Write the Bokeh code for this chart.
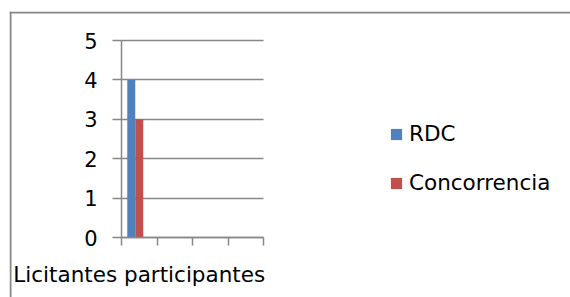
from bokeh.plotting import figure
from bokeh.models import (ColumnDataSource, FixedTicker, LinearAxis, Legend, LegendItem,
                          Range1d, Span)
from bokeh.transform import dodge
from bokeh.embed import file_html
from bokeh.resources import INLINE

# data
category = ["Licitantes participantes"]
cat_pos = [0.5]
rdc = [4]
concorrencia = [3]
series_names = ["RDC", "Concorrencia"]
y_ticks = [0, 1, 2, 3, 4, 5]
slot_edges = [0, 1, 2, 3, 4]

FONT = "DejaVu Sans"
GRAY = "#878787"
BLUE = "#4F81BD"
RED = "#C0504D"

# layout (pixels)
W, H = 570, 297
FL, FT = 9, 11              # frame left / top (outer chart border)
AX_X, AX_Y0, AX_Y5 = 121, 237, 40   # plot-area corner and top
SLOT = 35.5                  # px per category slot
YPX = (AX_Y0 - AX_Y5) / 5.0  # px per y unit

x_start = (FL - AX_X) / SLOT
x_end = (W - AX_X) / SLOT
y_end = 5 + (AX_Y5 - FT) / YPX
y_start = -(H - AX_Y0) / YPX

src = ColumnDataSource(dict(x=cat_pos, rdc=rdc, conc=concorrencia))

p = figure(width=W, height=H, output_backend="svg", toolbar_location=None,
           x_range=Range1d(x_start, x_end), y_range=Range1d(y_start, y_end),
           min_border_left=FL, min_border_right=0, min_border_top=FT, min_border_bottom=0,
           x_axis_type=None, y_axis_location="left")
p.outline_line_color = None

r1 = p.vbar(x=dodge("x", -0.225, range=p.x_range), top="rdc", width=0.225, source=src,
            fill_color=BLUE, line_color=None)
r2 = p.vbar(x=dodge("x", 0.0, range=p.x_range), top="conc", width=0.225, source=src,
            fill_color=RED, line_color=None)

# y axis, drawn at x = 0
ya = p.yaxis[0]
ya.fixed_location = 0
ya.bounds = (0, 5)
ya.ticker = FixedTicker(ticks=y_ticks)
ya.axis_line_color = GRAY
ya.axis_line_width = 1.5
ya.major_tick_line_color = GRAY
ya.major_tick_line_width = 1.5
ya.major_tick_out = 9
ya.major_tick_in = 0
ya.minor_tick_line_color = None
ya.major_label_text_font = FONT
ya.major_label_text_font_size = "21px"
ya.major_label_text_color = "black"
ya.major_label_standoff = 15

p.ygrid.ticker = FixedTicker(ticks=y_ticks)
p.ygrid.grid_line_color = GRAY
p.ygrid.grid_line_width = 1.5
p.ygrid.cross_bounds = (0, 4)
p.ygrid.bounds = (0, 5)
p.xgrid.grid_line_color = None

# x axis: category label at slot centre, tick marks at slot edges (minor ticks)
xa = LinearAxis(ticker=FixedTicker(ticks=cat_pos, minor_ticks=slot_edges),
                bounds=(0, 4), fixed_location=0,
                major_label_overrides={cat_pos[0]: category[0]})
xa.axis_line_color = GRAY
xa.axis_line_width = 1.5
xa.major_tick_line_color = None
xa.major_tick_out = 0
xa.major_tick_in = 0
xa.minor_tick_line_color = GRAY
xa.minor_tick_line_width = 1.5
xa.minor_tick_out = 8
xa.minor_tick_in = 0
xa.major_label_text_font = FONT
xa.major_label_text_font_size = "21.5px"
xa.major_label_text_color = "black"
xa.major_label_standoff = 16
p.add_layout(xa, "below")

# outer chart border (left and top)
p.add_layout(Span(location=x_start + 1.0 / SLOT, dimension="height",
                  line_color=GRAY, line_width=2))
p.add_layout(Span(location=y_end - 1.0 / YPX, dimension="width",
                  line_color=GRAY, line_width=2))

legend = Legend(items=[LegendItem(label=series_names[0], renderers=[r1]),
                       LegendItem(label=series_names[1], renderers=[r2])],
                location=(380, 102))
legend.label_text_font = FONT
legend.label_text_font_size = "21.5px"
legend.label_text_color = "black"
legend.glyph_width = 14
legend.glyph_height = 14
legend.label_standoff = 6
legend.label_height = 24
legend.spacing = 24
legend.padding = 0
legend.margin = 0
legend.border_line_color = None
legend.background_fill_color = None
p.add_layout(legend, "center")

open("out.html", "w").write(file_html(p, INLINE))
